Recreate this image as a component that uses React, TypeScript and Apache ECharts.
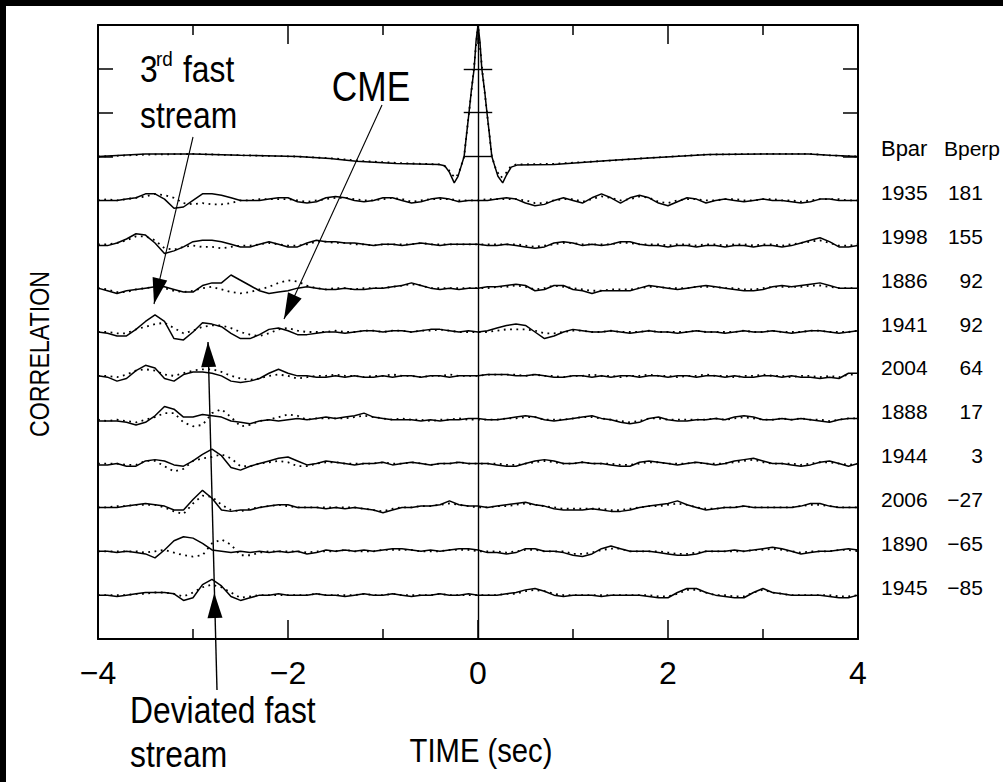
import React, { useEffect, useRef } from "react";
import * as echarts from "echarts";

// ---------- data ----------
// time lag samples (s)
const TIME = [
  -4.0, -3.9, -3.8, -3.7, -3.6, -3.5, -3.4, -3.3, -3.2, -3.1,
  -3.0, -2.9, -2.8, -2.7, -2.6, -2.5, -2.4, -2.3, -2.2, -2.1,
  -2.0, -1.9, -1.8, -1.7, -1.6, -1.5, -1.4, -1.3, -1.2, -1.1,
  -1.0, -0.9, -0.8, -0.7, -0.6, -0.5, -0.4, -0.3, -0.2, -0.1,
  0.0, 0.1, 0.2, 0.3, 0.4, 0.5, 0.6, 0.7, 0.8, 0.9,
  1.0, 1.1, 1.2, 1.3, 1.4, 1.5, 1.6, 1.7, 1.8, 1.9,
  2.0, 2.1, 2.2, 2.3, 2.4, 2.5, 2.6, 2.7, 2.8, 2.9,
  3.0, 3.1, 3.2, 3.3, 3.4, 3.5, 3.6, 3.7, 3.8, 3.9,
  4.0,
];

const BPAR = [1935, 1998, 1886, 1941, 2004, 1888, 1944, 2006, 1890, 1945];
const BPERP = [181, 155, 92, 92, 64, 17, 3, -27, -65, -85];

const X_TICKS = [-4, -2, 0, 2, 4];

// autocorrelation, [time s, correlation %]
const AUTO_SOLID = [
  [-4, 0], [-3.5, 2], [-3, 2], [-2.5, 1], [-1.9, 0], [-1.56, -1.5], [-1.28, -3.5],
  [-0.86, -5.3], [-0.41, -6], [-0.35, -7], [-0.3, -12], [-0.25, -20], [-0.21, -15],
  [-0.18, -8], [-0.146, 0], [-0.12, 17], [-0.095, 33], [-0.07, 50], [-0.04, 67],
  [-0.02, 88], [0, 100], [0.02, 88], [0.04, 67], [0.07, 50], [0.095, 33], [0.12, 17],
  [0.146, 0], [0.18, -8], [0.21, -15], [0.26, -20], [0.3, -14], [0.35, -8], [0.41, -6.5],
  [0.8, -6], [1.38, -3], [1.8, -1], [2.43, 1.5], [3, 2], [3.48, 2], [3.7, 1], [4, 0],
];
const AUTO_DOTTED = [
  [-4, 0], [-3.5, 1.5], [-3, 2], [-2.5, 1], [-1.9, 0], [-1.5, -1.5], [-1.2, -3.5],
  [-0.8, -5], [-0.4, -6], [-0.33, -8], [-0.27, -14], [-0.23, -16], [-0.19, -10],
  [-0.146, 0], [-0.1, 30], [-0.05, 62], [0, 100], [0.05, 62], [0.1, 30], [0.146, 0],
  [0.19, -10], [0.24, -16], [0.29, -13], [0.34, -8], [0.4, -6], [0.8, -5.5], [1.4, -3],
  [1.8, -1], [2.4, 1.5], [3, 2], [3.5, 2], [3.7, 1], [4, 0],
];

// cross-correlations (%), sampled on TIME; solid and dotted curves
const SOLID_1935 = [0,0,0,1,2,5,5,1,-6,-5,0,5,5,4,2,0,0,0,1,2,2,-1,-2,-1,2,3,2,0,-1,0,2,2,0,-2,-1,1,2,1,-1,0,0, 0,1,2,1,-2,-4,-3,0,2,0,-2,2,5,2,-2,2,4,2,-2,-4,-1,2,1,-2,0,1,0,-1,0,1,0,0,-1,-2,-1,1,1,0,0,0];
const DOTTED_1935 = [0,1,0,1,2,3,5,4,2,-2,-3,-2,-3,-3,-2,0,0,1,1,1,1,0,-1,0,1,2,2,1,0,0,1,2,1,-1,0,1,1,1,0,0,0, 1,1,1,1,0,-2,-2,0,1,1,-1,1,3,2,0,1,3,2,-1,-2,0,1,1,0,0,1,1,0,0,1,1,0,0,-1,0,1,1,1,0,0];
const SOLID_1998 = [-1,-1,1,4,8,7,1,-7,-5,-2,2,3,3,2,0,-2,-2,0,2,0,-2,-2,1,3,2,2,1,1,0,-1,0,0,-1,0,1,0,-1,0,0,0,0, -1,-1,0,-1,-2,-3,-2,1,2,1,-1,0,-1,0,2,2,0,-1,-1,-2,-1,-1,-2,-1,-1,-2,-1,-1,-2,-1,-1,-2,-1,1,3,5,2,-2,-2,-1];
const DOTTED_1998 = [0,0,1,3,6,6,3,-3,-4,-2,-1,-2,-2,-3,-2,-1,-1,0,1,0,-1,-1,0,2,2,1,1,0,0,-1,0,0,0,0,1,0,0,0,0,0,0, 0,0,0,0,-1,-2,-1,0,1,1,0,0,0,0,1,1,0,0,0,-1,0,0,-1,0,0,-1,0,0,-1,0,0,-1,0,1,2,3,1,-1,-1,0];
const SOLID_1886 = [0,-2,-4,-2,-1,0,1,1,-1,-3,-3,2,4,4,10,6,2,-2,-4,-3,-2,0,1,0,-1,-1,0,-1,-1,0,0,1,2,4,2,0,-1,0,-1,0,0, 1,1,2,3,2,-2,-1,2,2,-1,-2,-4,-2,-2,-2,-2,0,2,1,0,-1,0,1,2,1,0,-1,-2,-2,-1,1,2,1,2,3,4,2,0,0,0];
const DOTTED_1886 = [0,-1,-3,-3,-1,0,1,0,-2,-3,-2,0,1,-1,-3,-4,-3,-1,1,4,6,5,2,0,-1,0,0,-1,0,0,0,1,2,3,2,0,0,0,0,0,0, 0,1,1,2,1,-1,0,2,1,0,-1,-2,-2,-1,-1,-1,0,1,1,0,0,0,1,1,1,0,0,-1,-1,0,1,1,1,1,2,2,1,0,0,0];
const SOLID_1941 = [0,-1,-3,-3,2,8,13,8,-5,-6,0,7,6,4,-1,-5,-5,-2,2,3,1,-2,-2,-1,0,0,-1,0,1,1,0,1,1,0,1,2,2,1,0,1,0, 1,3,5,6,5,0,-5,-3,0,2,1,0,0,1,0,-1,0,1,0,0,-1,0,1,0,0,-1,0,1,0,0,1,0,-1,0,1,1,0,-1,0,1];
const DOTTED_1941 = [0,0,-1,-1,2,4,6,7,3,-1,1,4,5,5,3,0,-2,-3,-1,2,3,1,0,0,0,1,0,0,1,1,0,1,1,0,1,1,2,1,0,0,0, 0,1,2,2,2,1,-1,-1,0,1,1,0,0,1,0,0,0,1,0,0,0,0,1,0,0,0,0,1,0,0,1,0,0,0,1,1,0,0,0,1];
const SOLID_2004 = [0,-1,-4,-2,4,8,6,-2,-4,1,3,3,2,0,-4,-5,-4,-2,2,5,2,0,0,-1,-1,0,-1,0,-1,-1,0,-1,0,0,-1,0,0,-1,0,0,0, 1,1,1,0,0,1,0,-1,-1,0,0,-1,0,-1,0,0,-1,0,0,-1,0,0,-1,0,0,-1,0,-1,-1,0,0,-1,0,-1,-1,-2,-1,-2,2,2];
const DOTTED_2004 = [0,0,-1,1,4,5,4,1,0,2,4,5,5,3,0,-2,-3,-2,0,1,0,-2,-1,0,0,1,0,0,-1,0,0,1,0,0,-1,0,0,1,0,0,0, 1,1,1,1,0,1,0,0,-1,0,0,1,0,0,-1,0,0,1,0,0,-1,0,0,1,0,0,-1,0,0,1,0,0,-1,0,0,-1,0,-1,1,1];
const SOLID_1888 = [-1,-1,-1,-2,-4,-2,3,10,8,2,2,4,3,2,-1,-2,-3,-1,0,-1,0,1,0,1,2,1,2,3,5,2,1,0,0,0,-1,0,-1,0,0,1,1, 0,0,1,2,3,2,0,-1,0,1,2,3,1,0,-2,-3,-2,1,2,0,-1,-1,0,0,1,0,2,3,2,0,0,1,0,1,0,-1,-2,0,1,1];
const DOTTED_1888 = [0,-1,0,-1,-2,0,2,5,5,-2,-5,-4,5,8,2,-5,-4,-1,0,2,4,3,0,1,1,1,1,2,3,2,1,0,1,0,0,-1,0,0,1,0,0, 0,0,1,1,2,2,0,0,0,1,2,2,1,0,-1,-2,-1,1,1,0,0,0,0,0,1,0,1,2,1,0,0,1,0,1,0,0,-1,0,1,1];
const SOLID_1944 = [-1,-1,0,-2,-2,2,3,2,-1,-2,2,7,11,6,-3,-5,-2,0,2,4,5,2,-1,0,2,1,0,-1,0,0,1,-1,0,1,0,-1,0,0,1,0,0, 0,-1,-2,-2,0,2,3,2,0,0,1,0,0,-1,-2,-2,1,2,1,0,-1,0,1,0,-1,0,2,3,4,2,0,0,-1,-2,-1,1,2,0,-2,0];
const DOTTED_1944 = [0,0,0,-1,-1,2,2,-2,-6,-4,2,4,5,7,4,-2,-2,0,1,2,1,-2,-2,0,1,1,0,0,0,0,1,0,0,1,0,-1,0,0,1,0,0, 0,0,-1,-1,0,1,2,1,0,0,1,0,0,0,-1,-1,0,1,1,0,0,0,1,0,0,0,1,2,3,1,0,0,0,-1,0,1,1,0,-1,0];
const SOLID_2006 = [0,0,0,1,2,3,2,1,-2,-2,6,13,7,-2,-3,-2,-2,0,1,2,2,0,0,0,-1,0,-1,0,-1,-2,-4,-2,0,0,1,1,2,5,2,1,1, 0,1,2,3,4,2,1,-1,-2,-2,-2,-1,-2,-3,-3,-2,0,1,2,3,5,2,0,-2,-1,0,0,1,0,0,0,0,0,1,3,3,1,0,0,0];
const DOTTED_2006 = [0,0,1,1,2,2,2,0,-3,-5,3,9,8,2,-2,-3,-1,0,1,2,1,0,0,0,0,0,0,0,-1,-2,-3,-1,0,0,1,1,2,3,2,1,0, 0,1,1,2,3,2,1,0,-1,-1,-1,-1,-1,-2,-2,-1,0,1,1,2,3,2,0,-1,-1,0,0,1,0,0,0,0,0,1,2,2,1,0,0,0];
const SOLID_1890 = [0,0,-1,0,-1,-2,-5,1,8,11,10,6,1,0,-1,0,-1,0,-1,0,-1,0,-2,-1,1,0,1,0,1,0,1,2,2,1,0,1,0,1,2,2,1, -1,-1,-2,-1,2,2,0,0,-1,-3,-4,-2,2,4,2,0,0,0,-1,-2,-3,-3,-2,0,0,0,1,0,1,2,3,2,0,-2,-1,0,0,1,2,1];
const DOTTED_1890 = [0,0,0,0,0,-1,0,1,-1,-3,-4,-3,6,9,5,-3,-3,-1,0,0,0,0,-1,0,0,0,1,0,0,0,1,1,1,1,0,0,0,1,1,1,0, 0,0,-1,0,1,1,0,0,0,-2,-2,-1,1,2,2,0,0,0,0,-1,-2,-2,-1,0,0,0,0,0,1,1,2,1,0,-1,0,0,0,1,1,0];
const SOLID_1945 = [0,0,-1,0,1,2,2,2,1,-4,-2,8,12,7,-1,-4,-2,0,0,1,0,0,0,1,0,0,-1,0,1,0,0,1,0,-1,0,0,1,0,0,1,0, 0,0,1,2,4,5,3,0,-1,0,0,0,-1,0,0,0,0,-1,-2,-2,2,5,5,2,0,-1,-2,-2,2,5,2,1,0,0,0,0,-1,-2,-2,0];
const DOTTED_1945 = [0,0,0,0,1,1,2,2,1,-1,2,6,8,6,2,-2,-1,0,0,0,0,0,0,1,0,0,0,0,1,0,0,1,0,0,0,0,1,0,0,0,0, 0,0,1,1,3,4,3,1,0,0,0,0,0,0,0,0,0,0,-1,-1,1,4,4,2,0,0,-1,-1,2,4,2,1,0,0,0,0,0,-1,-1,0];

const SOLID = [SOLID_1935, SOLID_1998, SOLID_1886, SOLID_1941, SOLID_2004, SOLID_1888, SOLID_1944, SOLID_2006, SOLID_1890, SOLID_1945];
const DOTTED = [DOTTED_1935, DOTTED_1998, DOTTED_1886, DOTTED_1941, DOTTED_2004, DOTTED_1888, DOTTED_1944, DOTTED_2006, DOTTED_1890, DOTTED_1945];

// ---------- layout ----------
const W = 1003;
const H = 782;
const Y_MAX = 14;
const AUTO_BASE = 11; // baseline of autocorrelation trace (axis units)
const AMP = 3; // axis units per correlation 1.0
const FONT = "'Liberation Sans', Arial, sans-serif";

function arrowHead(sx: number, sy: number, tx: number, ty: number, len = 26, half = 7.5) {
  const dx = tx - sx, dy = ty - sy;
  const L = Math.hypot(dx, dy);
  const ux = dx / L, uy = dy / L;
  const bx = tx - ux * len, by = ty - uy * len;
  return [[tx, ty], [bx - uy * half, by + ux * half], [bx + uy * half, by - ux * half]];
}

function label(text: string, x: number, y: number, size: number, sx = 0.86, align = "left", rot = 0) {
  return {
    type: "text",
    x, y, scaleX: sx, rotation: rot, z: 100,
    style: {
      text, fontSize: size, fontFamily: FONT, fill: "#000",
      align, verticalAlign: "middle", textAlign: align, textVerticalAlign: "middle",
    },
  };
}

function buildOption() {
  const solidStyle = { color: "#000", width: 1.5 };
  const dotStyle = { color: "#000", width: 1.8, type: [1.8, 4.5] };
  const series: any[] = [];
  series.push({
    type: "line", name: "auto", data: AUTO_SOLID.map(([t, c]) => [t, AUTO_BASE + (AMP * c) / 100]),
    showSymbol: false, symbol: "none", lineStyle: solidStyle, z: 3,
    markLine: {
      silent: true, symbol: "none", animation: false,
      label: { show: false },
      lineStyle: { color: "#000", width: 1.4, type: "solid" },
      data: [
        [{ coord: [0, 0] }, { coord: [0, Y_MAX] }],
        [{ coord: [-0.15, 11] }, { coord: [0.15, 11] }],
        [{ coord: [-0.15, 12] }, { coord: [0.15, 12] }],
        [{ coord: [-0.15, 13] }, { coord: [0.15, 13] }],
      ],
    },
  });
  series.push({
    type: "line", name: "auto dotted", data: AUTO_DOTTED.map(([t, c]) => [t, AUTO_BASE + (AMP * c) / 100]),
    showSymbol: false, symbol: "none", lineStyle: dotStyle, z: 2,
  });
  SOLID.forEach((arr, k) => {
    const base = AUTO_BASE - 1 - k;
    series.push({
      type: "line", name: `${BPAR[k]} solid`,
      data: TIME.map((t, i) => [t, base + (AMP * arr[i]) / 100]),
      showSymbol: false, symbol: "none", lineStyle: solidStyle, z: 3,
    });
    series.push({
      type: "line", name: `${BPAR[k]} dotted`,
      data: TIME.map((t, i) => [t, base + (AMP * DOTTED[k][i]) / 100]),
      showSymbol: false, symbol: "none", lineStyle: dotStyle, z: 2,
    });
  });

  const xCommon = {
    type: "value", min: X_TICKS[0], max: X_TICKS[X_TICKS.length - 1], interval: 2,
    axisLine: { show: true, onZero: false, lineStyle: { color: "#000", width: 2 } },
    axisTick: { show: true, inside: true, length: 19, lineStyle: { color: "#000", width: 1.5 } },
    minorTick: { show: true, splitNumber: 2, length: 10, lineStyle: { color: "#000", width: 1.5 } },
    splitLine: { show: false }, minorSplitLine: { show: false },
  };
  const yCommon = {
    type: "value", min: 0, max: Y_MAX,
    axisLine: { show: true, onZero: false, lineStyle: { color: "#000", width: 2 } },
    axisTick: { show: true, inside: true, length: 15, customValues: [11, 12, 13], lineStyle: { color: "#000", width: 1.5 } },
    splitLine: { show: false },
  };

  const rightLabelValues = [11, ...BPAR.map((_, k) => AUTO_BASE - 1 - k)];
  const fmtNum = (v: number) => (v < 0 ? "\u2212" + Math.abs(v) : String(v));

  const a1 = arrowHead(193, 137, 154, 304);
  const a2 = arrowHead(382, 105, 284, 319);
  const a3 = arrowHead(217, 690, 208, 342, 25, 7.5);
  const a4 = arrowHead(217, 690, 214.3, 593, 25, 7.5);

  const graphic: any[] = [
    { type: "rect", shape: { x: 0, y: 0, width: W, height: 6 }, style: { fill: "#000" }, z: 200 },
    { type: "rect", shape: { x: 0, y: 0, width: 6, height: H }, style: { fill: "#000" }, z: 200 },
    label("3", 140, 69, 37),
    label("rd", 156, 59, 21, 0.9),
    label("fast", 183, 69, 37),
    label("stream", 140, 115, 37),
    label("CME", 371, 86, 42, 0.84, "center"),
    label("Deviated fast", 130, 710, 37),
    label("stream", 130, 754, 37),
    label("TIME (sec)", 481, 750, 34, 0.86, "center"),
    label("CORRELATION", 39, 354, 27, 0.86, "center", Math.PI / 2),
    { type: "line", shape: { x1: 193, y1: 137, x2: 154, y2: 304 }, style: { stroke: "#000", lineWidth: 1.1 }, z: 100 },
    { type: "line", shape: { x1: 382, y1: 105, x2: 284, y2: 319 }, style: { stroke: "#000", lineWidth: 1.1 }, z: 100 },
    { type: "line", shape: { x1: 217, y1: 690, x2: 208, y2: 342 }, style: { stroke: "#000", lineWidth: 1.4 }, z: 100 },
    { type: "polygon", shape: { points: a1 }, style: { fill: "#000" }, z: 100 },
    { type: "polygon", shape: { points: a2 }, style: { fill: "#000" }, z: 100 },
    { type: "polygon", shape: { points: a3 }, style: { fill: "#000" }, z: 100 },
    { type: "polygon", shape: { points: a4 }, style: { fill: "#000" }, z: 100 },
  ];

  const richBase = { fontSize: 21, fontFamily: FONT, color: "#000", lineHeight: 16 };

  return {
    animation: false,
    backgroundColor: "#fff",
    grid: { left: 98, top: 25, right: 140, bottom: 143, containLabel: false },
    xAxis: [
      {
        ...xCommon, position: "bottom",
        axisLabel: {
          show: true, margin: 18, fontSize: 32, fontFamily: FONT, color: "#000",
          formatter: (v: number) => fmtNum(v),
        },
      },
      { ...xCommon, position: "top", axisLabel: { show: false } },
    ],
    yAxis: [
      { ...yCommon, position: "left", axisLabel: { show: false } },
      {
        ...yCommon, position: "right",
        axisLabel: {
          show: true, margin: 23, customValues: rightLabelValues, verticalAlign: "bottom",
          formatter: (v: number) => {
            if (Math.round(v) === AUTO_BASE) return "{ha|Bpar}{h|Bperp}";
            const k = AUTO_BASE - 1 - Math.round(v);
            if (k < 0 || k >= BPAR.length) return "";
            return `{a|${BPAR[k]}}{b|${fmtNum(BPERP[k])}}`;
          },
          rich: {
            a: { ...richBase, width: 47, align: "left" },
            b: { ...richBase, width: 55, align: "right" },
            ha: { ...richBase, fontSize: 22, width: 47, align: "left" },
            h: { ...richBase, align: "left", padding: [0, 0, 0, 16] },
          },
        },
      },
    ],
    series,
    graphic,
  };
}

export default function App() {
  const ref = useRef<HTMLDivElement>(null);
  useEffect(() => {
    document.documentElement.style.background = "#fff";
    document.body.style.background = "#fff";
    const chart = echarts.init(ref.current!, null, { renderer: "svg" });
    chart.setOption(buildOption() as any);
    return () => chart.dispose();
  }, []);
  return (
    <div
      ref={ref}
      style={{ position: "fixed", left: 0, top: 0, width: W, height: H, background: "#fff" }}
    />
  );
}
